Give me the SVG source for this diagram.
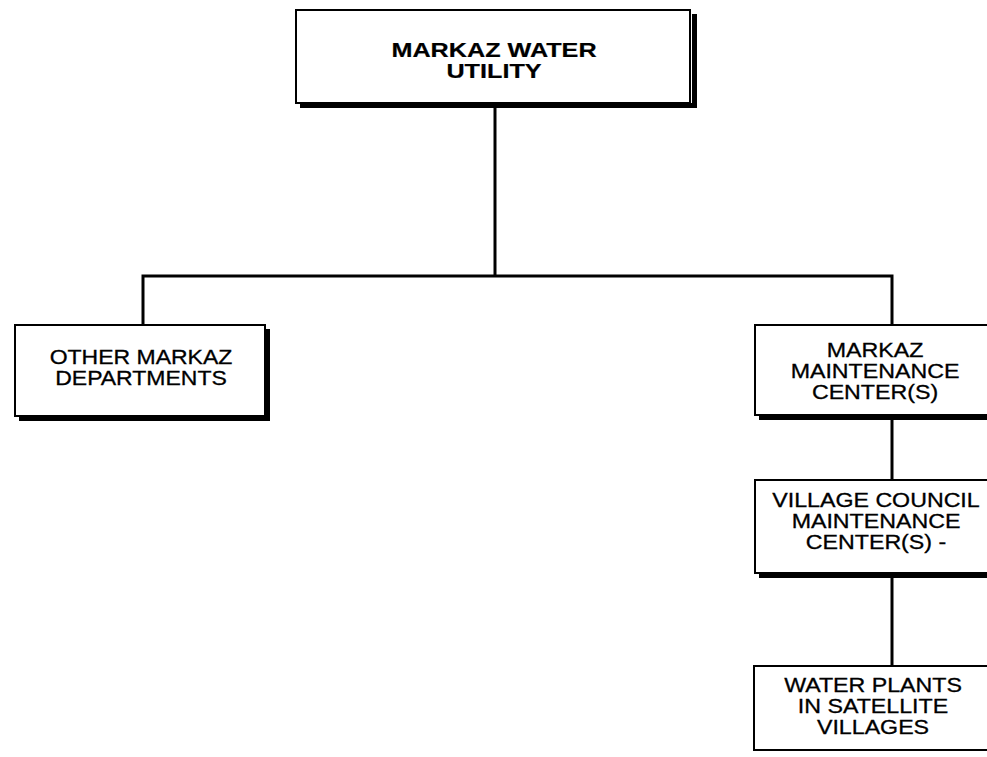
<svg xmlns="http://www.w3.org/2000/svg" width="987" height="757" viewBox="0 0 987 757">
  <style>
    .box { fill: #fff; stroke: #000; stroke-width: 2; }
    .shadow { fill: none; stroke: #000; stroke-width: 5; stroke-linejoin: miter; }
    .link { fill: none; stroke: #000; stroke-width: 3; }
    text { font-family: "Liberation Sans", Arial, Helvetica, sans-serif; font-size: 20px; fill: #000; stroke: #000; stroke-width: 0.3; text-anchor: middle; }
    .bold { font-weight: bold; stroke-width: 0.2; }
  </style>
  <rect width="987" height="757" fill="#fff"/>

  <!-- tree connectors -->
  <g id="connectors">
    <line class="link" x1="495" y1="106" x2="495" y2="276"/>
    <polyline class="link" points="143,326 143,276 892,276 892,326"/>
    <line class="link" x1="892" y1="418" x2="892" y2="481"/>
    <line class="link" x1="892" y1="575" x2="892" y2="667"/>
  </g>

  <g id="markaz-water-utility">
    <rect class="box" x="296" y="10" width="394" height="93"/>
    <path class="shadow" d="M300 105.5 H694.5 V14"/>
    <g transform="translate(494,0) scale(1.26,1)">
      <text class="bold" x="0" y="57">MARKAZ WATER</text>
      <text class="bold" x="0" y="78">UTILITY</text>
    </g>
  </g>

  <g id="other-departments">
    <rect class="box" x="15" y="325" width="250" height="91"/>
    <path class="shadow" d="M19 418.5 H267.5 V329"/>
    <g transform="translate(141,0) scale(1.15,1)">
      <text x="0" y="364">OTHER MARKAZ</text>
      <text x="0" y="385">DEPARTMENTS</text>
    </g>
  </g>

  <g id="markaz-maintenance">
    <rect class="box" x="755" y="325" width="240" height="90"/>
    <path class="shadow" d="M759 417.5 H995"/>
    <g transform="translate(875,0) scale(1.16,1)">
      <text x="0" y="357">MARKAZ</text>
      <text x="0" y="378">MAINTENANCE</text>
      <text x="0" y="399">CENTER(S)</text>
    </g>
  </g>

  <g id="village-council-maintenance">
    <rect class="box" x="755" y="480" width="240" height="93"/>
    <path class="shadow" d="M759 575.5 H995"/>
    <g transform="translate(876,0) scale(1.16,1)">
      <text x="0" y="507">VILLAGE COUNCIL</text>
      <text x="0" y="528">MAINTENANCE</text>
      <text x="0" y="549">CENTER(S) -</text>
    </g>
  </g>

  <g id="water-plants">
    <rect class="box" x="754" y="666" width="240" height="84"/>
    <g transform="translate(873,0) scale(1.16,1)">
      <text x="0" y="692">WATER PLANTS</text>
      <text x="0" y="713">IN SATELLITE</text>
      <text x="0" y="734">VILLAGES</text>
    </g>
  </g>
</svg>
